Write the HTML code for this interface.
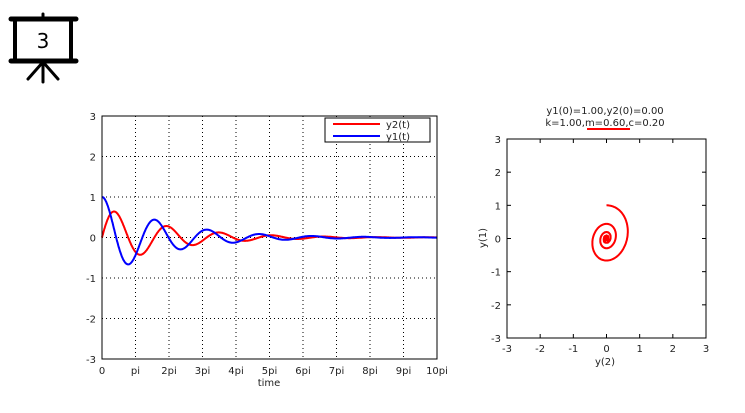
<!DOCTYPE html>
<html><head><style>
body{margin:0;background:#fff;}
svg text{font-family:"DejaVu Sans",sans-serif;font-size:10px;fill:#222;}
</style></head><body>
<svg id="s" width="745" height="408" xmlns="http://www.w3.org/2000/svg">
<g stroke="#000" fill="none" stroke-linecap="round">
<rect x="15" y="19" width="56" height="42" stroke-width="4"/>
<line x1="11" y1="19" x2="76" y2="19" stroke-width="5"/>
<line x1="11" y1="61" x2="76" y2="61" stroke-width="5"/>
<line x1="43" y1="14" x2="43" y2="18" stroke-width="3"/>
<line x1="43" y1="62" x2="28" y2="79" stroke-width="3"/>
<line x1="43" y1="62" x2="58" y2="79" stroke-width="3"/>
<line x1="43" y1="62" x2="43" y2="82" stroke-width="3"/>
</g>
<text x="43" y="48" text-anchor="middle" style="font-size:20px;fill:#000">3</text>
<g id="L"></g>
<rect x="102" y="116" width="335" height="243" fill="none" stroke="#000"/>
<rect x="325" y="118" width="105" height="24" fill="#fff" stroke="#000"/>
<line x1="333" y1="124" x2="380" y2="124" stroke="#f00" stroke-width="2"/>
<line x1="333" y1="136" x2="380" y2="136" stroke="#00f" stroke-width="2"/>
<text x="386" y="128">y2(t)</text><text x="386" y="140">y1(t)</text>
<text x="269" y="386" text-anchor="middle">time</text>
<rect x="507" y="139" width="199" height="199" fill="none" stroke="#000"/>
<text x="605" y="114" text-anchor="middle">y1(0)=1.00,y2(0)=0.00</text>
<text x="605" y="126" text-anchor="middle">k=1.00,m=0.60,c=0.20</text>
<line x1="587" y1="129" x2="630" y2="129" stroke="#f00" stroke-width="2"/>
<text x="605" y="365" text-anchor="middle">y(2)</text>
<text transform="translate(486,238) rotate(-90)" text-anchor="middle">y(1)</text>
<g id="R"></g>
</svg>
<script>
var NS="http://www.w3.org/2000/svg",L=document.getElementById('L'),R=document.getElementById('R');
function el(p,t,a,txt){var e=document.createElementNS(NS,t);for(var k in a)e.setAttribute(k,a[k]);if(txt!==undefined)e.textContent=txt;p.appendChild(e);return e;}
var x0=102,W=335,yT=116,H=243;
function lx(t){return x0+t/(10*Math.PI)*W;}function ly(v){return yT+(3-v)/6*H;}
var labs=["0","pi","2pi","3pi","4pi","5pi","6pi","7pi","8pi","9pi","10pi"];
for(var i=0;i<=10;i++){var x=x0+i*W/10;
 if(i>0&&i<10)el(L,'line',{x1:x,y1:yT,x2:x,y2:yT+H,stroke:'#000','stroke-dasharray':'1,3'});
 el(L,'text',{x:x,y:374,'text-anchor':'middle'},labs[i]);}
for(var v=-3;v<=3;v++){var y=ly(v);
 if(v>-3&&v<3)el(L,'line',{x1:x0,y1:y,x2:x0+W,y2:y,stroke:'#000','stroke-dasharray':'1,3'});
 el(L,'text',{x:96,y:y+4,'text-anchor':'end'},String(v));}
for(var v=-3;v<=3;v++){var px=507+(v+3)/6*199,py=338-(v+3)/6*199;
 el(R,'text',{x:px,y:352,'text-anchor':'middle'},String(v));
 el(R,'text',{x:501,y:py+4,'text-anchor':'end'},String(v));
 if(v>-3&&v<3){el(R,'line',{x1:px,y1:338,x2:px,y2:334,stroke:'#000'});el(R,'line',{x1:px,y1:139,x2:px,y2:143,stroke:'#000'});
 el(R,'line',{x1:507,y1:py,x2:511,y2:py,stroke:'#000'});el(R,'line',{x1:706,y1:py,x2:702,y2:py,stroke:'#000'});}}
var m=0.6,k=1,c=0.2,y1=1,v=0,dt=0.002,T=10*Math.PI,p1="",p2="",p3="";
function f(y,v){return -(k*y+c*v)/m;}
for(var n=0,t=0;t<=T;n++,t=n*dt){
 var y2=-m*v;
 if(n%10==0){p1+=(n?"L":"M")+lx(t).toFixed(1)+","+ly(y1).toFixed(1);
  p2+=(n?"L":"M")+lx(t).toFixed(1)+","+ly(y2).toFixed(1);
  p3+=(n?"L":"M")+(606.5+y2*199/6).toFixed(1)+","+(238.5-y1*199/6).toFixed(1);}
 var k1y=v,k1v=f(y1,v),k2y=v+dt/2*k1v,k2v=f(y1+dt/2*k1y,v+dt/2*k1v),
 k3y=v+dt/2*k2v,k3v=f(y1+dt/2*k2y,v+dt/2*k2v),k4y=v+dt*k3v,k4v=f(y1+dt*k3y,v+dt*k3v);
 y1+=dt/6*(k1y+2*k2y+2*k3y+k4y);v+=dt/6*(k1v+2*k2v+2*k3v+k4v);}
el(L,'path',{d:p2,fill:'none',stroke:'#f00','stroke-width':2});
el(L,'path',{d:p1,fill:'none',stroke:'#00f','stroke-width':2});
el(R,'path',{d:p3,fill:'none',stroke:'#f00','stroke-width':2});
</script>
</body></html>
